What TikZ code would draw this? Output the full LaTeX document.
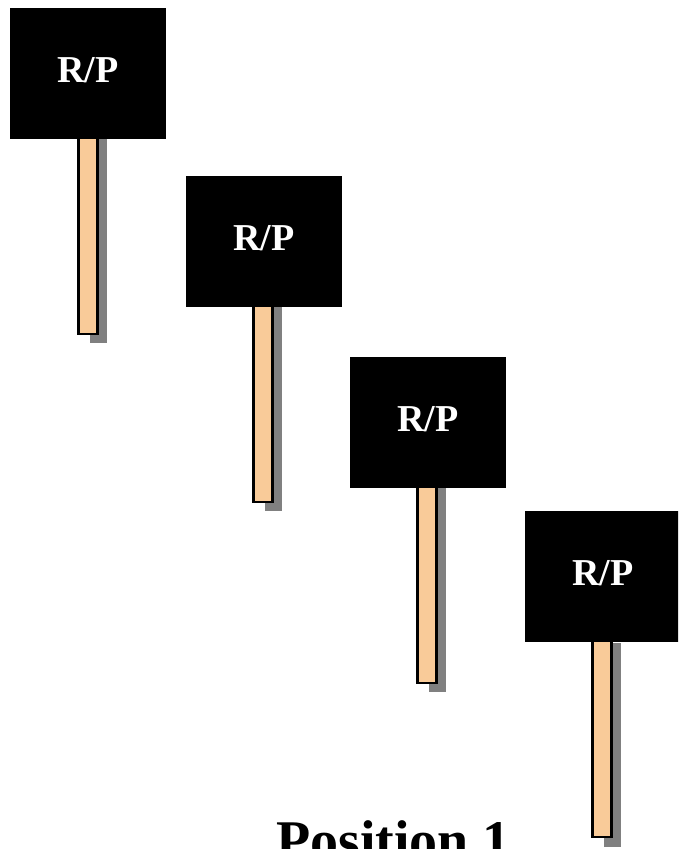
\documentclass[tikz,border=0pt]{standalone}
\usepackage{fontspec}
\setmainfont{Liberation Serif}
\usetikzlibrary{positioning}

\definecolor{stickfill}{RGB}{249,203,153}
\definecolor{stickshade}{RGB}{128,128,128}
\tikzset{
  sign/.style={fill=black, text=white, inner sep=0pt,
    minimum width=156pt, minimum height=131pt,
    font=\bfseries\fontsize{38}{38}\selectfont},
  stick/.style={fill=stickfill, draw=black, line width=2.5pt},
  shade/.style={fill=stickshade},
  caption/.style={font=\bfseries\fontsize{56}{56}\selectfont, anchor=base}
}

\begin{document}
\begin{tikzpicture}[x=1pt, y=-1pt]
\useasboundingbox (0,0) rectangle (678,849);
\clip (0,0) rectangle (678,849);

% sticks with their shadows
\fill[shade] (90,139) rectangle ++(17,204);
\draw[stick] (78.5,137) rectangle ++(19,197);
\fill[shade] (265,307) rectangle ++(17,204);
\draw[stick] (253.5,305) rectangle ++(19,197);
\fill[shade] (429,488) rectangle ++(17,204);
\draw[stick] (417.5,486) rectangle ++(19,197);
\fill[shade] (604,643) rectangle ++(17,204);
\draw[stick] (592.5,641) rectangle ++(19,196);

% signs
\node[sign] (rp1) at (88,73.5) {\raisebox{7pt}{R/P}};
\node[sign] (rp2) at (264,241.5) {\raisebox{7pt}{R/P}};
\node[sign] (rp3) at (428,422) {\raisebox{7pt}{R/P}};
\node[sign] (rp4) at (603,576.5) {\raisebox{7pt}{R/P}};

\node[caption] (pos1) at (393.5,859) {Position 1};
\end{tikzpicture}
\end{document}
